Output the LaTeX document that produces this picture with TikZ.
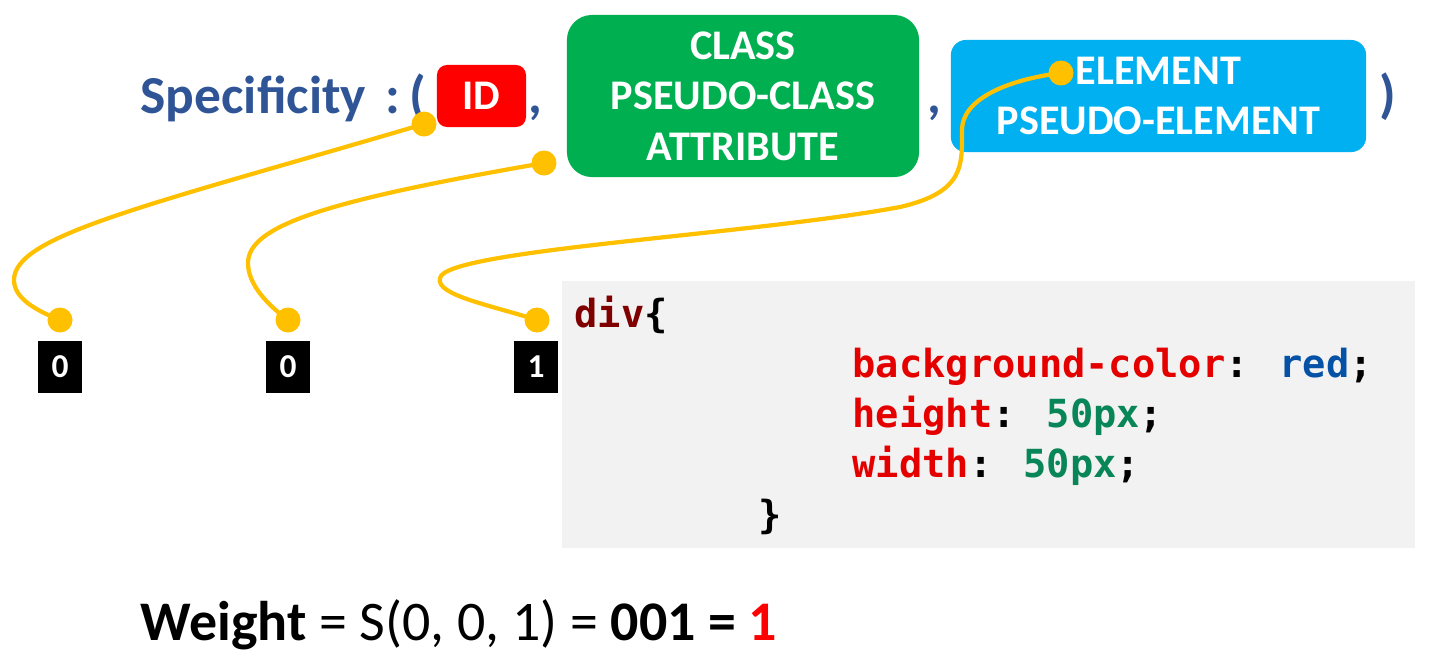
\documentclass[tikz,border=0pt]{standalone}
\usepackage{fontspec}
\setmainfont{Carlito}
\newfontfamily\codefont{DejaVu Sans Mono}
\definecolor{specblue}{HTML}{2F5597}
\definecolor{idred}{HTML}{FF0000}
\definecolor{classgreen}{HTML}{00B050}
\definecolor{elemblue}{HTML}{00B0F0}
\definecolor{linkyellow}{HTML}{FFC000}
\definecolor{codegray}{HTML}{F2F2F2}
\definecolor{tagred}{HTML}{800000}
\definecolor{propred}{HTML}{E50000}
\definecolor{valblue}{HTML}{0451A5}
\definecolor{valgreen}{HTML}{098658}
\begin{document}
\begin{tikzpicture}[x=0.01cm, y=-0.01cm,
    category/.style ={text=white, align=center, inner sep=0pt, font=\fontsize{12}{14.4}\selectfont\bfseries},
    heading/.style ={anchor=base west, inner sep=0pt, text=specblue, font=\fontsize{15.2}{17}\selectfont\bfseries},
    dot/.style ={circle, fill=linkyellow, inner sep=0pt, minimum size=2.5mm},
    link/.style ={linkyellow, line width=1.2pt},
    count/.style ={fill=black, text=white, inner sep=0pt, minimum width=4.4mm, minimum height=5.1mm, font=\fontsize{9.5}{11}\selectfont\bfseries},
    codeline/.style ={anchor=base west, inner sep=0pt, font=\codefont\fontsize{11}{13}\selectfont\bfseries}]
   \useasboundingbox (0,0) rectangle (1442,669);
   % heading
   \node[heading] (spec)  at (140,113)  {Specificity};
   \node[heading] (open)  at (385,113)  {:\,(};
   \node[heading] (comma1) at (528,113) {,};
   \node[heading] (comma2) at (927,113) {,};
   \node[heading] (close) at (1379,112) {)};
   \node[category, fill=idred, rounded corners=1mm, minimum width=8.9mm, minimum height=6.2mm] (id) at (481.5,96) {ID};
   \node[category, fill=classgreen, rounded corners=2.5mm, minimum width=35.2mm, minimum height=16.2mm] (class) at (743,96) {CLASS\\PSEUDO-CLASS\\ATTRIBUTE};
   \node[category, fill=elemblue, rounded corners=1.5mm, minimum width=41.5mm, minimum height=11.2mm] (element) at (1158.5,96) {ELEMENT\\PSEUDO-ELEMENT};
   % code
   \node[fill=codegray, inner sep=0pt, minimum width=85.3mm, minimum height=26.7mm] (code) at (988.5,414.5) {};
   \node[codeline] (sel) at (574,327) {\textcolor{tagred}{div}\{};
   \node[codeline] (bg) at (852,377) {\textcolor{propred}{background-color}: \textcolor{valblue}{red};};
   \node[codeline] (hgt) at (852,427) {\textcolor{propred}{height}: \textcolor{valgreen}{50px};};
   \node[codeline] (wdt) at (852,477) {\textcolor{propred}{width}: \textcolor{valgreen}{50px};};
   \node[codeline] (end) at (758,528) {\}};
   % counts
   \node[count] (n1) at (60,367)  {0};
   \node[count] (n2) at (288,367) {0};
   \node[count] (n3) at (536,367) {1};
   % links
   \node[dot] (a1) at (424,124) {};
   \node[dot] (a2) at (544,163) {};
   \node[dot] (a3) at (1061,73) {};
   \node[dot] (b1) at (60,320) {};
   \node[dot] (b2) at (288,320) {};
   \node[dot] (b3) at (537,320) {};
   \draw[link] (a1.center) .. controls (150,205) and (14,235) .. (14,280) .. controls (14,298) and (35,310) .. (b1.center);
   \draw[link] (a2.center) .. controls (330,200) and (248,225) .. (248,263) .. controls (248,285) and (268,305) .. (b2.center);
   \draw[link] (a3.center) .. controls (1005,80) and (962,100) .. (962,130) .. controls (962,165) and (965,192) .. (900,207)
      .. controls (750,235) and (445,250) .. (440,278) .. controls (435,295) and (490,305) .. (b3.center);
   % weight
   \node[anchor=base west, inner sep=0pt, font=\fontsize{15.9}{19}\selectfont] (weight) at (140,640)
      {\textbf{Weight} = S(0, 0, 1) = \textbf{001 = }\textcolor{idred}{\textbf{1}}};
\end{tikzpicture}
\end{document}
